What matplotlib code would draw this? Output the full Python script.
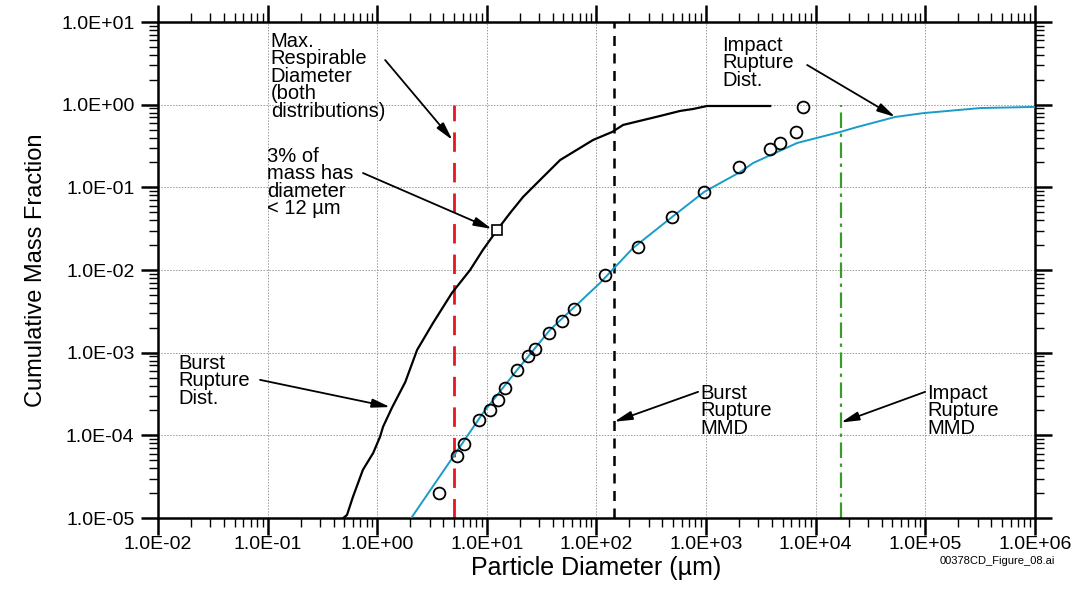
import numpy as np
import matplotlib
matplotlib.use("Agg")
import matplotlib.pyplot as plt
from matplotlib import ticker

plt.rcParams['font.family'] = ['Liberation Sans', 'DejaVu Sans']

# Distribucion "Burst Rupture" (curva negra)
burst_d = [0.49, 0.53, 0.60, 0.74, 0.917, 1.06, 1.13, 1.36, 1.80, 2.31, 3.23,
           4.81, 7.03, 9.2, 12.4, 16.3, 21.4, 30.6, 46.6, 93, 139, 175, 380,
           579, 761, 1020, 3840]
burst_f = [1e-5, 1.09e-5, 1.8e-5, 3.83e-5, 6.1e-5, 9.6e-5, 1.27e-4, 2.15e-4,
           4.4e-4, 1.08e-3, 2.29e-3, 5.3e-3, 0.01, 0.0175, 0.0305, 0.049,
           0.0766, 0.123, 0.214, 0.374, 0.468, 0.569, 0.73, 0.84, 0.887,
           0.964, 0.964]

# Distribucion "Impact Rupture" (curva cian)
impact_d = [1.9, 4.92, 9.23, 18.9, 37.7, 108, 216, 490, 959, 2042, 2685,
            6760, 16700, 23900, 53000, 95500, 316000, 1e6]
impact_f = [8.7e-6, 5.5e-5, 1.87e-4, 6.2e-4, 1.89e-3, 7.0e-3, 0.0185, 0.0439,
            0.088, 0.153, 0.197, 0.344, 0.468, 0.537, 0.71, 0.79, 0.91, 0.94]

# Puntos medidos (circulos)
meas_d = [3.66, 5.35, 6.19, 8.49, 10.7, 12.6, 14.7, 18.9, 23.8, 27.5, 37.0,
          48.5, 62.5, 120, 240, 490, 959, 2000, 3840, 4730, 6620, 7670]
meas_f = [2.02e-5, 5.65e-5, 7.9e-5, 1.54e-4, 2.03e-4, 2.69e-4, 3.75e-4,
          6.2e-4, 9.1e-4, 1.11e-3, 1.73e-3, 2.43e-3, 3.39e-3, 8.7e-3, 0.019,
          0.044, 0.088, 0.177, 0.291, 0.344, 0.468, 0.94]

# Punto 3% a 12 um
pt3_d, pt3_f = 12.4, 0.0305

# Lineas verticales
resp_d = 5.0
burst_mmd = 145
impact_mmd = 1.7e4

ylabels = ["1.0E-05", "1.0E-04", "1.0E-03", "1.0E-02", "1.0E-01", "1.0E+00", "1.0E+01"]
xlabels = ["1.0E-02", "1.0E-01", "1.0E+00", "1.0E+01", "1.0E+02", "1.0E+03",
           "1.0E+04", "1.0E+05", "1.0E+06"]

fig = plt.figure(figsize=(10.77, 5.90), dpi=100)
ax = fig.add_axes([0.1467, 0.1220, 0.8143, 0.8407])
ax.set_xscale('log')
ax.set_yscale('log')
ax.set_xlim(1e-2, 1e6)
ax.set_ylim(1e-5, 1e1)

ax.grid(True, which='major', color='#9a9a9a', linestyle=(0, (1.5, 1.5)), linewidth=0.7)

cyan = '#1a9cc8'
ax.plot(impact_d, impact_f, color=cyan, lw=1.4, zorder=3)
ax.plot(burst_d, burst_f, color='black', lw=1.6, zorder=3)
ax.plot(meas_d, meas_f, 'o', ms=8.5, mfc='none', mec='black', mew=1.3, zorder=4)
ax.plot([pt3_d], [pt3_f], 's', ms=7, mfc='white', mec='black', mew=1.2, zorder=5)

ax.plot([resp_d, resp_d], [1e-5, 1.0], color='#e8141e', lw=2.0, dashes=(7, 4), zorder=2)
ax.plot([burst_mmd, burst_mmd], [1e-5, 1e1], color='black', lw=1.8, dashes=(4, 3), zorder=2)
ax.plot([impact_mmd, impact_mmd], [1e-5, 1.0], color='#3a9a2a', lw=1.6,
        dashes=(7, 2.5, 1.5, 2.5), zorder=2)

# Ejes y marcas
for s in ax.spines.values():
    s.set_linewidth(1.8)
ax.xaxis.set_minor_locator(ticker.LogLocator(base=10, subs=np.arange(2, 10), numticks=100))
ax.yaxis.set_minor_locator(ticker.LogLocator(base=10, subs=np.arange(2, 10), numticks=100))
ax.set_xticks([10.0 ** k for k in range(-2, 7)])
ax.set_xticklabels(xlabels)
ax.set_yticks([10.0 ** k for k in range(-5, 2)])
ax.set_yticklabels(ylabels)
ax.xaxis.set_minor_formatter(ticker.NullFormatter())
ax.yaxis.set_minor_formatter(ticker.NullFormatter())
ax.tick_params(which='major', direction='out', length=12, width=1.8, labelsize=14,
               top=True, right=True)
ax.tick_params(which='minor', direction='out', length=6.5, width=1.0, top=True, right=True)
ax.tick_params(axis='x', which='major', pad=1)
ax.tick_params(axis='y', which='major', pad=5)

ax.set_xlabel("Particle Diameter (\u00b5m)", fontsize=18, labelpad=2)
ax.set_ylabel("Cumulative Mass Fraction", fontsize=17, labelpad=10)

# Anotaciones
tk = dict(fontsize=14.5, linespacing=0.9, va='top', ha='left', zorder=6)
arr = dict(arrowstyle='-|>,head_length=0.9,head_width=0.22', color='black', lw=1.3,
           mutation_scale=12, shrinkA=0, shrinkB=0)

ax.text(0.107, 7.6, "Max.\nRespirable\nDiameter\n(both\ndistributions)", **tk)
ax.annotate("", xy=(4.85, 0.374), xytext=(1.18, 3.47), arrowprops=arr)

ax.text(0.099, 0.31, "3% of\nmass has\ndiameter\n< 12 \u00b5m", **tk)
ax.annotate("", xy=(11.1, 0.0314), xytext=(0.741, 0.149), arrowprops=arr)

ax.text(1400, 6.8, "Impact\nRupture\nDist.", **tk)
ax.annotate("", xy=(53000, 0.71), xytext=(8350, 3.02), arrowprops=arr)

ax.text(0.0152, 9.7e-4, "Burst\nRupture\nDist.", **tk)
ax.annotate("", xy=(1.31, 2.2e-4), xytext=(0.0853, 4.69e-4), arrowprops=arr)

ax.text(881, 4.2e-4, "Burst\nRupture\nMMD", **tk)
ax.annotate("", xy=(burst_mmd, 1.46e-4), xytext=(845, 3.36e-4), arrowprops=arr)

ax.text(1.04e5, 4.2e-4, "Impact\nRupture\nMMD", **tk)
ax.annotate("", xy=(impact_mmd, 1.43e-4), xytext=(99500, 3.36e-4), arrowprops=arr)

fig.text(1055 / 1077, 1 - 561 / 590, "00378CD_Figure_08.ai", fontsize=8,
         ha='right', va='center')

fig.savefig("out.png", dpi=100)
